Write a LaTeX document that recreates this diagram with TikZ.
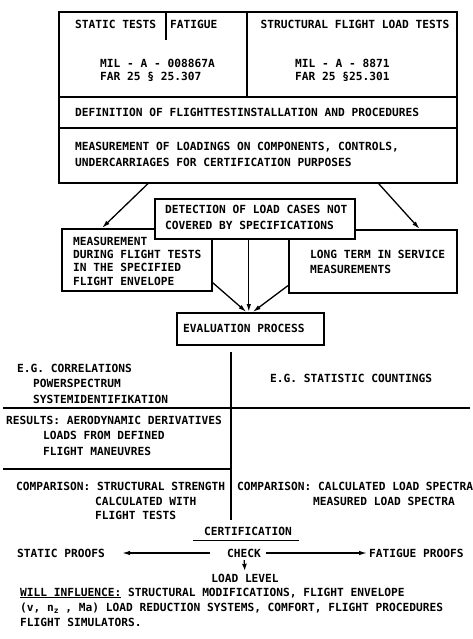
\documentclass[tikz,border=0pt]{standalone}
\usepackage{fontspec}
\setmonofont{DejaVu Sans Mono}
\usetikzlibrary{arrows.meta}
\begin{document}
\begin{tikzpicture}[x=1pt,y=-1pt,
  lbl/.style={font=\ttfamily\bfseries\fontsize{11.2}{14}\selectfont, inner sep=0pt,
    text height=8pt, text depth=0pt, anchor=west},
  ctr/.style={lbl, anchor=center},
  frame/.style={draw, line width=1.6pt, inner sep=0pt, anchor=north west},
  rule/.style={line width=1.6pt},
  arr/.style={line width=1.3pt, -{Latex[length=8pt,width=4.5pt]}},
]
\useasboundingbox (0,0) rectangle (472,639);

% ---- specification block ----
\node[frame, minimum width=398pt, minimum height=171pt] (topbox) at (58,11) {};
\draw[rule] (166,11) -- (166,40);
\draw[rule] (247,11) -- (247,97);
\draw[rule] (58,97) -- (456,97);
\draw[rule] (58,128) -- (456,128);

\node[lbl] (static) at (75,25) {STATIC TESTS};
\node[lbl] (fatigue) at (170,25) {FATIGUE};
\node[ctr] (sflt) at (355,25) {STRUCTURAL FLIGHT LOAD TESTS};
\node[lbl] (mil1) at (100,64) {MIL - A - 008867A};
\node[lbl] (far1) at (100,77) {FAR 25 § 25.307};
\node[lbl] (mil2) at (295,64) {MIL - A - 8871};
\node[lbl] (far2) at (295,77) {FAR 25 §25.301};
\node[lbl] (def) at (75,113) {DEFINITION OF FLIGHTTESTINSTALLATION AND PROCEDURES};
\node[lbl] (meas1) at (75,147) {MEASUREMENT OF LOADINGS ON COMPONENTS, CONTROLS,};
\node[lbl] (meas2) at (75,163) {UNDERCARRIAGES FOR CERTIFICATION PURPOSES};

% ---- measurement boxes ----
\node[frame, minimum width=150pt, minimum height=62pt] (lbox) at (61,228) {};
\node[frame, minimum width=168pt, minimum height=63pt] (rbox) at (288,229) {};
\node[frame, fill=white, minimum width=200pt, minimum height=40pt] (det) at (154,198) {};

\node[lbl] (det1) at (165,209) {DETECTION OF LOAD CASES NOT};
\node[lbl] (det2) at (165,225) {COVERED BY SPECIFICATIONS};
\node[lbl] (lb1) at (73,241) {MEASUREMENT};
\node[lbl] (lb2) at (73,254) {DURING FLIGHT TESTS};
\node[lbl] (lb3) at (73,267) {IN THE SPECIFIED};
\node[lbl] (lb4) at (73,281) {FLIGHT ENVELOPE};
\node[lbl] (rb1) at (310,254) {LONG TERM IN SERVICE};
\node[lbl] (rb2) at (310,269) {MEASUREMENTS};

\draw[arr] ([xshift=90pt]topbox.south west) -- ([xshift=41pt]lbox.north west);
\draw[arr] ([xshift=-79pt]topbox.south east) -- ([xshift=-38pt]rbox.north east);

% ---- evaluation ----
\node[frame, minimum width=147pt, minimum height=32pt] (eval) at (176,312) {};
\node[lbl] (evaltxt) at (183,328) {EVALUATION PROCESS};

\draw[arr] ([yshift=9pt]lbox.south east) -- ([xshift=-4pt]eval.north);
\draw[arr] ([xshift=-6pt]det.south) -- ([xshift=-1.5pt]eval.north);
\draw[arr] ([yshift=8pt]rbox.south west) -- ([xshift=2.5pt]eval.north);

% ---- result table ----
\draw[rule] (231,352) -- (231,520);
\draw[rule] (3,408) -- (470,408);
\draw[rule] (3,469) -- (231,469);

\node[lbl] (eg1) at (17,368) {E.G. CORRELATIONS};
\node[lbl] (eg2) at (33,383) {POWERSPECTRUM};
\node[lbl] (eg3) at (33,399) {SYSTEMIDENTIFIKATION};
\node[lbl] (egs) at (270,378) {E.G. STATISTIC COUNTINGS};
\node[lbl] (res1) at (6,420) {RESULTS: AERODYNAMIC DERIVATIVES};
\node[lbl] (res2) at (43,435) {LOADS FROM DEFINED};
\node[lbl] (res3) at (43,451) {FLIGHT MANEUVRES};
\node[lbl] (cmp1) at (16,486) {COMPARISON: STRUCTURAL STRENGTH};
\node[lbl] (cmp2) at (95,501) {CALCULATED WITH};
\node[lbl] (cmp3) at (95,515) {FLIGHT TESTS};
\node[lbl] (cmp4) at (237,486) {COMPARISON: CALCULATED LOAD SPECTRA};
\node[lbl] (cmp5) at (313,501) {MEASURED LOAD SPECTRA};

% ---- certification ----
\node[ctr] (cert) at (248,531) {CERTIFICATION};
\draw[line width=1.3pt] ([xshift=-11pt,yshift=-5pt]cert.south west) -- ([xshift=7pt,yshift=-5pt]cert.south east);
\node[lbl] (sp) at (17,553) {STATIC PROOFS};
\node[ctr] (check) at (244,553) {CHECK};
\node[lbl] (fp) at (369,553) {FATIGUE PROOFS};
\node[ctr] (level) at (245,578) {LOAD LEVEL};
\draw[arr] ([xshift=-17pt]check.west) -- ([xshift=17pt]sp.east);
\draw[arr] ([xshift=5pt]check.east) -- ([xshift=-2pt]fp.west);
\draw[line width=1.2pt, -{Latex[length=7pt,width=5pt]}, shorten <=3pt, shorten >=3pt] (check.south) -- (level.north);

\node[lbl] (wi1) at (20,592) {\underline{WILL INFLUENCE:} STRUCTURAL MODIFICATIONS, FLIGHT ENVELOPE};
\node[lbl] (wi2) at (20,607) {(v, n\raisebox{-2.5pt}{\fontsize{8}{8}\selectfont z} , Ma) LOAD REDUCTION SYSTEMS, COMFORT, FLIGHT PROCEDURES};
\node[lbl] (wi3) at (20,622) {FLIGHT SIMULATORS.};
\end{tikzpicture}
\end{document}
